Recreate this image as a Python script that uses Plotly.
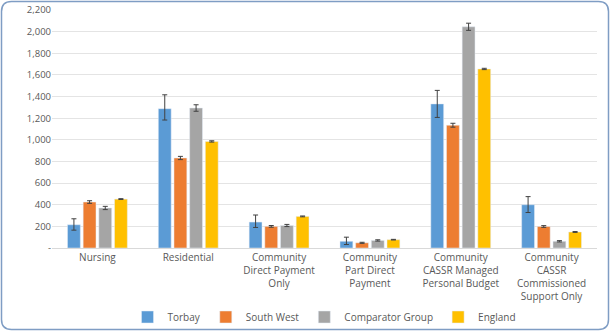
import plotly.graph_objects as go

categories = ["Nursing", "Residential", "Community<br>Direct Payment<br>Only",
              "Community<br>Part Direct<br>Payment", "Community<br>CASSR Managed<br>Personal Budget",
              "Community<br>CASSR<br>Commissioned<br>Support Only"]
series_names = ["Torbay", "South West", "Comparator Group", "England"]
colors = ["#5B9BD5", "#ED7D31", "#A5A5A5", "#FFC000"]

torbay = [215, 1288, 240, 62, 1332, 400]
south_west = [425, 832, 200, 48, 1135, 199]
comparator = [370, 1294, 208, 70, 2045, 62]
england = [452, 985, 292, 77, 1655, 148]

torbay_err_plus = [55, 128, 65, 38, 125, 75]
torbay_err_minus = [50, 105, 50, 30, 125, 72]
sw_err = [12, 15, 8, 5, 18, 8]
comp_err = [15, 30, 10, 6, 33, 6]
eng_err = [4, 6, 4, 3, 6, 4]

values = [torbay, south_west, comparator, england]
err_plus = [torbay_err_plus, sw_err, comp_err, eng_err]
err_minus = [torbay_err_minus, sw_err, comp_err, eng_err]

tick_vals = list(range(0, 2201, 200))
tick_text = ["-"] + [f"{v:,}" for v in tick_vals[1:]]

fig = go.Figure()
for name, col, vals, ep, em in zip(series_names, colors, values, err_plus, err_minus):
    fig.add_trace(go.Bar(
        name=name, x=categories, y=vals, marker_color=col,
        error_y=dict(type="data", symmetric=False, array=ep, arrayminus=em,
                     color="#404040", thickness=1, width=2.5),
    ))

# plot area in pixels
L, R, T, B = 52, 597, 10, 248
W, H = R - L, B - T

def px(x):
    return (x - L) / W

def py(y):
    return (B - y) / H

x0, x1, y0, y1, r = 1.5, 608.5, 1.5, 329.5, 10
path = (f"M {px(x0+r)} {py(y0)} L {px(x1-r)} {py(y0)} "
        f"Q {px(x1)} {py(y0)} {px(x1)} {py(y0+r)} "
        f"L {px(x1)} {py(y1-r)} Q {px(x1)} {py(y1)} {px(x1-r)} {py(y1)} "
        f"L {px(x0+r)} {py(y1)} Q {px(x0)} {py(y1)} {px(x0)} {py(y1-r)} "
        f"L {px(x0)} {py(y0+r)} Q {px(x0)} {py(y0)} {px(x0+r)} {py(y0)} Z")

fig.update_layout(
    width=611, height=332,
    margin=dict(l=L, r=611 - R, t=T, b=332 - B, autoexpand=False),
    paper_bgcolor="white", plot_bgcolor="white",
    barmode="group", bargap=0.31, bargroupgap=0.18,
    font=dict(family="Open Sans, Liberation Sans, sans-serif", size=10, color="#595959"),
    showlegend=True,
    legend=dict(orientation="h", x=0.5, xanchor="center", y=-(317 - B) / H, yanchor="middle",
                font=dict(size=10, color="#595959"), itemwidth=30, traceorder="normal",
                bgcolor="rgba(0,0,0,0)"),
    xaxis=dict(showgrid=False, showline=True, linecolor="#D9D9D9", linewidth=1,
               ticks="", tickfont=dict(size=10, color="#595959"), automargin=False),
    yaxis=dict(range=[0, 2200], tickvals=tick_vals, ticktext=tick_text,
               showgrid=True, gridcolor="#E4E4E4", gridwidth=1, zeroline=False,
               showline=False, ticks="", ticklen=0, automargin=False,
               tickfont=dict(size=9.5, color="#595959")),
    shapes=[dict(type="path", path=path, xref="paper", yref="paper",
                 line=dict(color="#7F9DC4", width=1.5), fillcolor="rgba(0,0,0,0)", layer="above")],
)

fig.write_html("out.html")
